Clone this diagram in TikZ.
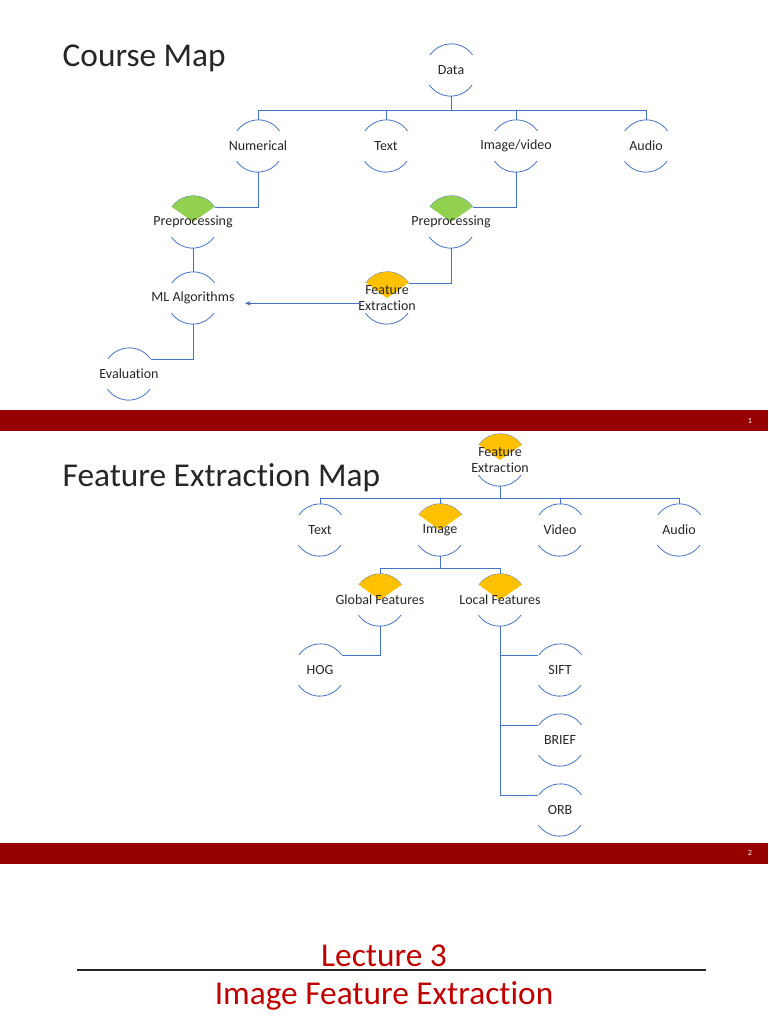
\documentclass[tikz,border=0pt]{standalone}
\usepackage{fontspec}
\setmainfont{Carlito}[Ligatures=NoCommon]
\usetikzlibrary{backgrounds,arrows.meta}

\definecolor{linkblue}{RGB}{68,114,196}
\definecolor{leafgreen}{RGB}{146,208,80}
\definecolor{leafgold}{RGB}{255,192,0}
\definecolor{bandred}{RGB}{150,0,0}
\definecolor{titlered}{RGB}{192,0,0}
\definecolor{inkgray}{RGB}{38,38,38}

\begin{document}
\begin{tikzpicture}[x=0.75pt,y=0.75pt,
    topic/.style={circle,minimum size=39pt,inner sep=0pt,
        label={[font=\fontsize{10.5}{12}\selectfont,text=inkgray,align=center]center:#1}},
    link/.style={linkblue,line width=0.6pt},
    rim/.style={linkblue,line width=0.6pt},
    pagetitle/.style={anchor=base west,font=\fontsize{25}{29}\selectfont,text=inkgray},
    covertitle/.style={anchor=base,font=\fontsize{25}{30}\selectfont,text=titlered}]
        \useasboundingbox (0,0) rectangle (768,-1024);

        % slide 1: course map
        \node[pagetitle] (title1) at (58,-67) {Course Map};
        \node[topic=Data] (data) at (451,-70) {};
        \node[topic=Numerical] (num) at (258,-146) {};
        \node[topic=Text] (txt) at (386,-146) {};
        \node[topic=Image/video] (img) at (516,-146) {};
        \node[topic=Audio] (aud) at (646,-146) {};
        \node[topic=Preprocessing] (pre1) at (193,-222) {};
        \node[topic=Preprocessing] (pre2) at (451,-222) {};
        \node[topic=ML Algorithms] (ml) at (193,-298) {};
        \node[topic={Feature\\Extraction}] (fe1) at (387,-298) {};
        \node[topic=Evaluation] (eval) at (129,-374) {};

        \coordinate (bus1) at (451,-110);
        \draw[link] (data.south) -- (bus1);
        \draw[link] (bus1 -| num) -- (bus1 -| aud);
        \foreach \n in {num,txt,img,aud}
            \draw[link] (bus1 -| \n) -- (\n.north);
        \draw[link] (num.south) |- (pre1.35);
        \draw[link] (img.south) |- (pre2.35);
        \draw[link] (pre1.south) -- (ml.north);
        \draw[link] (pre2.south) |- (fe1.35);
        \draw[link] (ml.south) |- (eval.35);
        \draw[link,-{Stealth[length=4pt,width=3.5pt]}] ([yshift=-4pt]fe1.west) -- ([xshift=19.5pt,yshift=-4pt]ml.east);

        \fill[bandred] (0,-410) rectangle (768,-431);
        \node[white,font=\fontsize{6}{7}\selectfont] (num1) at (750,-421) {1};

        % slide 2: feature extraction map
        \node[pagetitle] (title2) at (58,-486) {Feature Extraction Map};
        \node[topic={Feature\\Extraction}] (fe2) at (500,-460) {};
        \node[topic=Text] (txt2) at (320,-530) {};
        \node[topic=Image] (img2) at (440,-530) {};
        \node[topic=Video] (vid) at (560,-530) {};
        \node[topic=Audio] (aud2) at (679,-530) {};
        \node[topic=Global Features] (glob) at (380,-600) {};
        \node[topic=Local Features] (loc) at (500,-600) {};
        \node[topic=HOG] (hog) at (320,-670) {};
        \node[topic=SIFT] (sift) at (560,-670) {};
        \node[topic=BRIEF] (brief) at (560,-740) {};
        \node[topic=ORB] (orb) at (560,-810) {};

        \coordinate (bus2) at (500,-498);
        \draw[link] (fe2.south) -- (bus2);
        \draw[link] (bus2 -| txt2) -- (bus2 -| aud2);
        \foreach \n in {txt2,img2,vid,aud2}
            \draw[link] (bus2 -| \n) -- (\n.north);
        \coordinate (bus3) at (440,-568);
        \draw[link] (img2.south) -- (bus3);
        \draw[link] (bus3 -| glob) -- (bus3 -| loc);
        \foreach \n in {glob,loc}
            \draw[link] (bus3 -| \n) -- (\n.north);
        \draw[link] (glob.south) |- (hog.35);
        \foreach \n in {sift,brief,orb}
            \draw[link] (loc.south) |- (\n.145);

        \fill[bandred] (0,-843) rectangle (768,-864);
        \node[white,font=\fontsize{6}{7}\selectfont] (num2) at (750,-853) {2};

        % slide 3: cover
        \node[covertitle] (lect) at (384,-966) {Lecture 3};
        \draw[inkgray,line width=1.5pt] (77,-970) -- (706,-970);
        \node[covertitle] (subj) at (384,-1004) {Image Feature Extraction};

        % circle rims, then the coloured wedges over them
        \begin{scope}[on background layer]
            \foreach \n in {data,num,txt,img,aud,pre1,pre2,ml,fe1,eval,fe2,txt2,img2,vid,aud2,glob,loc,hog,sift,brief,orb}
                \draw[rim] (\n.35) arc (35:145:26) (\n.215) arc (215:325:26);
            \foreach \n in {pre1,pre2}
                \fill[leafgreen] (\n.center) -- (\n.35) arc (35:145:26) -- cycle;
            \foreach \n in {fe1,fe2,img2,glob,loc}
                \fill[leafgold] (\n.center) -- (\n.35) arc (35:145:26) -- cycle;
        \end{scope}
    \end{tikzpicture}
\end{document}
